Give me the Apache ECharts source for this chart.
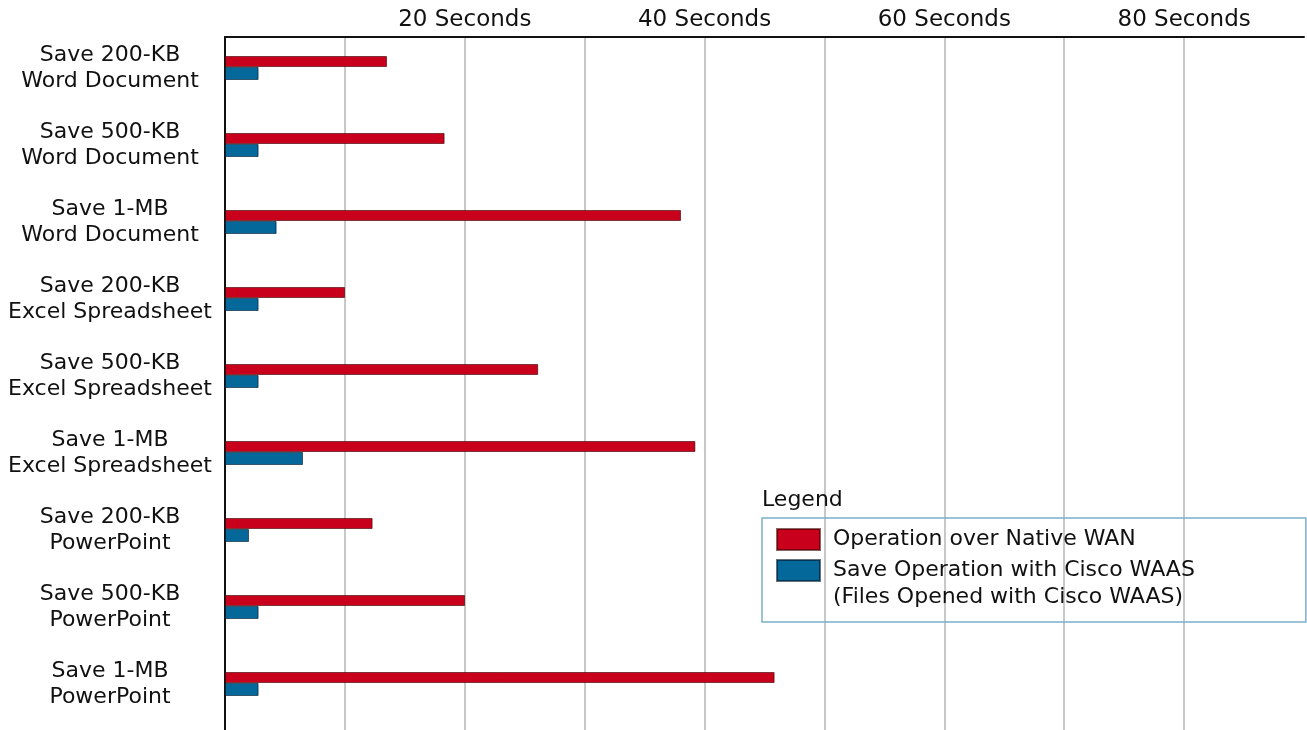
<!DOCTYPE html>
<html>
<head>
<meta charset="utf-8">
<script src="https://cdn.jsdelivr.net/npm/echarts@6/dist/echarts.min.js"></script>
<style>
    html, body {
        margin: 0;
        padding: 0;
        background-color: #fff;
    }

    #main {
        width: 1307px;
        height: 730px;
    }
</style>
</head>
<body>
<div id="main"></div>
<script>
// categories, top to bottom
var categories = [
    'Save 200-KB\nWord Document',
    'Save 500-KB\nWord Document',
    'Save 1-MB\nWord Document',
    'Save 200-KB\nExcel Spreadsheet',
    'Save 500-KB\nExcel Spreadsheet',
    'Save 1-MB\nExcel Spreadsheet',
    'Save 200-KB\nPowerPoint',
    'Save 500-KB\nPowerPoint',
    'Save 1-MB\nPowerPoint'
];

// seconds
var nativeWan = [13.5, 18.3, 38, 10, 26.1, 39.2, 12.3, 20, 45.8];
var withWaas = [2.8, 2.8, 4.3, 2.8, 2.8, 6.5, 2, 2.8, 2.8];

var seriesNames = [
    'Operation over Native WAN',
    'Save Operation with Cisco WAAS'
];
var legendLabels = [
    'Operation over Native WAN',
    '\nSave Operation with Cisco WAAS\n(Files Opened with Cisco WAAS)'
];

// only these ticks get a label
var labeledTicks = [20, 40, 60, 80];
var tickUnit = ' Seconds';

var font = 'DejaVu Sans';
var option;

option = {
    animation: false,
    backgroundColor: '#fff',
    textStyle: {
        fontFamily: font
    },
    title: {
        text: 'Legend',
        left: 757,
        top: 484,
        textStyle: {
            fontFamily: font,
            fontSize: 22,
            fontWeight: 'normal',
            color: '#111'
        }
    },
    legend: {
        orient: 'vertical',
        left: 762,
        top: 518,
        padding: [8, 111, 11, 14],
        itemGap: -23,
        itemWidth: 43,
        itemHeight: 21,
        icon: 'rect',
        borderColor: '#7ab0cc',
        borderWidth: 1.5,
        borderRadius: 0,
        data: seriesNames,
        formatter: function (name) {
            return legendLabels[seriesNames.indexOf(name)];
        },
        textStyle: {
            fontFamily: font,
            fontSize: 22,
            lineHeight: 27,
            color: '#111',
            padding: [0, 0, 0, 8]
        }
    },
    grid: [
        // bars and category labels
        { left: 225, right: 2, top: 29.5, bottom: 7.5 },
        // top axis, gridlines, left axis line
        { left: 225, right: 2, top: 37, bottom: 0 }
    ],
    xAxis: [
        {
            gridIndex: 0,
            type: 'value',
            min: 0,
            max: 90,
            show: false
        },
        {
            gridIndex: 1,
            type: 'value',
            position: 'top',
            min: 0,
            max: 90,
            interval: 10,
            axisLine: {
                show: true,
                onZero: false,
                lineStyle: { color: '#111', width: 2 }
            },
            axisTick: { show: false },
            axisLabel: {
                margin: 5,
                fontFamily: font,
                fontSize: 23,
                color: '#111',
                formatter: function (v) {
                    return labeledTicks.indexOf(v) >= 0 ? v + tickUnit : '';
                }
            },
            splitLine: {
                show: true,
                showMinLine: false,
                showMaxLine: false,
                lineStyle: { color: '#c8c8c8', width: 2 }
            }
        }
    ],
    yAxis: [
        {
            gridIndex: 0,
            type: 'category',
            inverse: true,
            data: categories,
            axisLine: { show: false },
            axisTick: { show: false },
            axisLabel: {
                margin: 115,
                align: 'center',
                fontFamily: font,
                fontSize: 22,
                lineHeight: 26,
                color: '#111',
                padding: [3, 0, 0, 0]
            }
        },
        {
            gridIndex: 1,
            type: 'value',
            min: 0,
            max: 1,
            axisLine: {
                show: true,
                onZero: false,
                lineStyle: { color: '#111', width: 2 }
            },
            axisTick: { show: false },
            axisLabel: { show: false },
            splitLine: { show: false }
        }
    ],
    series: [
        {
            name: seriesNames[0],
            type: 'bar',
            xAxisIndex: 0,
            yAxisIndex: 0,
            barWidth: 11,
            barGap: 0,
            itemStyle: {
                color: '#c9001b',
                borderColor: 'rgba(60,0,0,0.6)',
                borderWidth: 1
            },
            data: nativeWan
        },
        {
            name: seriesNames[1],
            type: 'bar',
            xAxisIndex: 0,
            yAxisIndex: 0,
            barWidth: 13,
            barGap: 0,
            itemStyle: {
                color: '#05689b',
                borderColor: 'rgba(0,20,40,0.6)',
                borderWidth: 1
            },
            data: withWaas
        }
    ]
};

var myChart = echarts.init(document.getElementById('main'));
option && myChart.setOption(option);
</script>
</body>
</html>
